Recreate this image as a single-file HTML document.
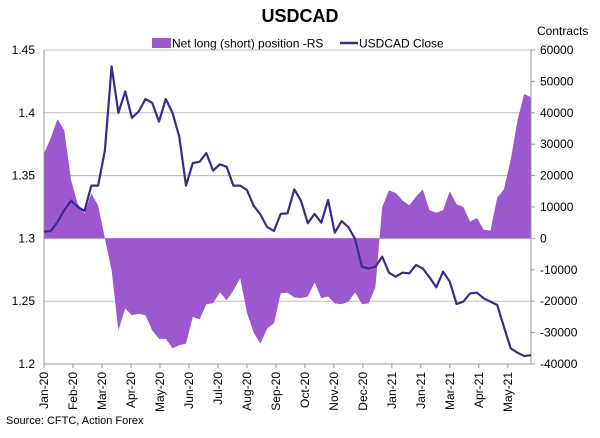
<!DOCTYPE html>
<html><head><meta charset="utf-8"><style>
body{margin:0;background:#fff;font-family:"Liberation Sans",Arial,sans-serif}
svg text{font-family:"Liberation Sans",Arial,sans-serif}
</style></head><body>
<svg id="c" width="600" height="433" xmlns="http://www.w3.org/2000/svg">
<text x="300" y="22" text-anchor="middle" font-size="18" font-weight="bold">USDCAD</text>
<text x="537" y="35" font-size="12">Contracts</text>
<g>
<rect x="152" y="38" width="19" height="10" fill="#9b58cf"/>
<text x="172" y="47.5" font-size="12">Net long (short) position -RS</text>
<line x1="340" y1="43" x2="358" y2="43" stroke="#3b2a8c" stroke-width="2.5"/>
<text x="359" y="47.5" font-size="12">USDCAD Close</text>
</g>
<text x="6" y="424" font-size="11">Source: CFTC, Action Forex</text>
<g id="plot"></g>
</svg>
<script>
const monthLabels=["Jan-20","Feb-20","Mar-20","Apr-20","May-20","Jun-20","Jul-20","Aug-20","Sep-20","Oct-20","Nov-20","Dec-20","Jan-21","Jan-21","Mar-21","Apr-21","May-21"];
const leftTicks=[1.2,1.25,1.3,1.35,1.4,1.45];
const rightTicks=[-40000,-30000,-20000,-10000,0,10000,20000,30000,40000,50000,60000];
const netPositions=[27000,32000,38000,34400,18500,11000,8000,14300,10500,0,-10200,-29300,-22300,-24500,-24000,-24500,-29300,-32000,-32000,-35000,-34000,-33500,-25000,-25800,-21000,-20600,-17200,-19700,-16600,-12700,-23600,-30000,-33500,-28700,-27000,-17500,-17300,-18800,-19000,-18500,-14000,-19000,-18500,-20700,-21000,-20200,-17200,-21000,-20700,-15500,10000,15300,14500,12100,10500,13300,15600,9000,8200,9000,15000,10900,10000,5300,6500,2800,2500,13000,15600,25000,37600,46000,45000];
const closePrices=[1.3053,1.306,1.313,1.3226,1.33,1.325,1.322,1.342,1.342,1.370,1.437,1.400,1.417,1.396,1.401,1.411,1.408,1.393,1.411,1.400,1.381,1.342,1.360,1.361,1.368,1.354,1.359,1.357,1.342,1.342,1.3385,1.326,1.319,1.309,1.306,1.3195,1.320,1.339,1.330,1.312,1.3195,1.3125,1.3306,1.3045,1.3138,1.309,1.2995,1.2775,1.276,1.2775,1.2854,1.2727,1.2695,1.2727,1.2722,1.2788,1.276,1.269,1.2611,1.2735,1.2655,1.2478,1.2497,1.2563,1.2568,1.2523,1.2497,1.247,1.2297,1.2125,1.209,1.2064,1.207];

const NS="http://www.w3.org/2000/svg";
const g=document.getElementById('plot');
const X0=44,X1=531,Y0=50,Y1=364;
const yL=v=>Y1-(v-1.2)/(0.25)*(Y1-Y0);
const yR=v=>Y1-(v+40000)/100000*(Y1-Y0);
const n=netPositions.length;
const xI=i=>X0+i*(X1-X0)/(n-1);
function mk(t,a){const e=document.createElementNS(NS,t);for(const k in a)e.setAttribute(k,a[k]);g.appendChild(e);return e;}

leftTicks.forEach(v=>{
 const l=mk('line',{x1:X0,x2:X1,y1:yL(v),y2:yL(v),stroke:'#bdbdbd','stroke-width':1});
 
 
 const t=mk('text',{x:35,y:yL(v)+4,'font-size':12,'text-anchor':'end'});t.textContent=String(v===1.3?'1.3':v===1.4?'1.4':v===1.2?'1.2':v);
 
 
});
rightTicks.forEach(v=>{
 const tk=mk('line',{x1:X1,x2:X1+4,y1:yR(v),y2:yR(v),stroke:'#999'});
 
 
 const t=mk('text',{x:X1+9,y:yR(v)+4,'font-size':12});t.textContent=v;
 
 
});
// area
let d=`M${xI(0)},${yR(0)}`;
netPositions.forEach((v,i)=>{d+=`L${xI(i).toFixed(1)},${yR(v).toFixed(1)}`;});
d+=`L${xI(n-1)},${yR(0)}Z`;
const area=mk('path',{d:d,fill:'#9b58cf'});


// axes
const la=mk('line',{x1:X0,x2:X0,y1:Y0,y2:Y1,stroke:'#999'});


const ra=mk('line',{x1:X1,x2:X1,y1:Y0,y2:Y1,stroke:'#999'});


const ba=mk('line',{x1:X0,x2:X1,y1:Y1,y2:Y1,stroke:'#999'});


// close line
const pts=closePrices.map((v,i)=>`${xI(i).toFixed(1)},${yL(v).toFixed(1)}`).join(' ');
const ln=mk('polyline',{points:pts,fill:'none',stroke:'#3b2a8c','stroke-width':2.2,'stroke-linejoin':'round'});


// x labels
const mStep=(X1-X0)/16.8;
monthLabels.forEach((m,i)=>{
 const x=X0+i*mStep;
 const tk=mk('line',{x1:x,x2:x,y1:Y1,y2:Y1+4,stroke:'#999'});
 
 
 const t=mk('text',{x:0,y:0,'font-size':12,'text-anchor':'end',transform:`translate(${x+4},${Y1+8}) rotate(-90)`});
 t.textContent=m;
 
 
});
</script>
</body></html>
